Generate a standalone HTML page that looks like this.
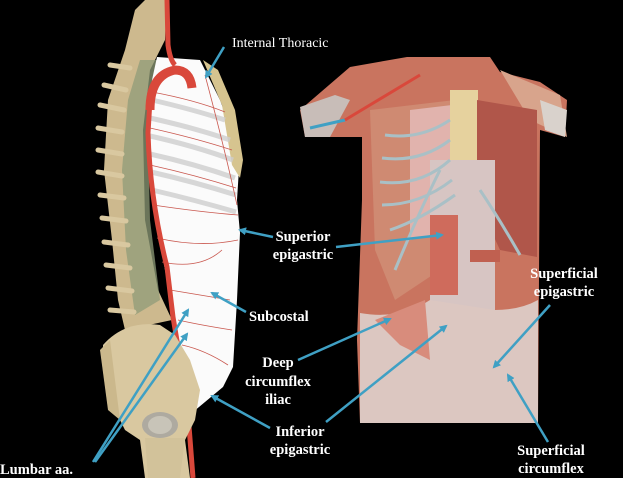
<!DOCTYPE html>
<html><head><style>
html,body{margin:0;padding:0;background:#000;}
svg{display:block}
text{font-family:"Liberation Serif",serif;fill:#fff;font-weight:bold;font-size:14.5px}
</style></head><body>
<svg width="623" height="478" viewBox="0 0 623 478" xmlns="http://www.w3.org/2000/svg">
<defs>
<marker id="ah" markerWidth="8" markerHeight="8" refX="6" refY="4" orient="auto" markerUnits="userSpaceOnUse">
<path d="M0,0 L8,4 L0,8 Z" fill="#3fa0c4"/></marker>
</defs>
<rect width="623" height="478" fill="#000"/>
<!-- spine -->
<path d="M145,0 L167,0 L165,40 L150,70 L143,130 L145,220 L158,290 L172,320 L125,330 L118,300 L112,240 L104,170 L108,100 L125,50 L135,10 Z" fill="#cdb98e"/>
<path d="M140,60 L158,60 L148,130 L150,220 L160,300 L135,315 L126,250 L122,170 L128,100 Z" fill="#8f9c78" opacity="0.75"/>
<g stroke="#d9c8a0" stroke-width="5" stroke-linecap="round">
<line x1="110" y1="65" x2="130" y2="68"/><line x1="104" y1="85" x2="126" y2="90"/><line x1="100" y1="105" x2="124" y2="110"/>
<line x1="98" y1="128" x2="122" y2="132"/><line x1="98" y1="150" x2="122" y2="154"/><line x1="98" y1="172" x2="122" y2="176"/>
<line x1="100" y1="195" x2="124" y2="198"/><line x1="102" y1="218" x2="126" y2="221"/><line x1="104" y1="242" x2="128" y2="245"/>
<line x1="106" y1="265" x2="130" y2="268"/><line x1="108" y1="288" x2="132" y2="291"/><line x1="110" y1="310" x2="134" y2="312"/>
</g>
<!-- thorax white -->
<path d="M157,57 L200,60 L220,100 L240,153 L237,200 L240,233 L237,300 L233,367 L223,387 L193,412 L185,400 L175,330 L165,270 L152,200 L148,130 L152,80 Z" fill="#fbfbfb"/>
<path d="M203,60 L218,70 L235,110 L243,160 L240,178 L232,165 L222,105 Z" fill="#d6c48f"/>
<g stroke="#cfcfcf" stroke-width="5" fill="none" opacity="0.8">
<path d="M152,100 Q195,110 225,120"/><path d="M150,118 Q195,128 230,140"/><path d="M150,136 Q195,146 233,160"/>
<path d="M150,154 Q195,164 235,178"/><path d="M151,172 Q195,182 236,195"/><path d="M152,190 Q195,200 236,212"/>
</g>
<g stroke="#c9574e" stroke-width="0.8" fill="none">
<path d="M152,92 Q195,100 225,112"/><path d="M150,128 Q195,138 232,150"/><path d="M150,165 Q195,175 236,188"/>
<path d="M153,205 Q200,212 238,215"/><path d="M157,238 Q200,248 238,240"/><path d="M162,262 Q200,270 222,250"/>
<path d="M170,290 Q200,295 230,300"/><path d="M178,320 Q200,325 232,330"/><path d="M182,345 Q205,350 228,365"/>
<path d="M205,75 Q225,150 237,205"/>
</g>
<!-- aorta -->
<path d="M167,0 L168,45 Q170,60 175,65" stroke="#d9483b" stroke-width="5" fill="none"/>
<path d="M150,110 Q150,75 175,70 Q190,70 192,88" stroke="#d9483b" stroke-width="9" fill="none"/>
<path d="M150,100 L148,133 Q150,200 167,267 L173,317 L187,400 L193,478" stroke="#d9483b" stroke-width="5" fill="none"/>
<!-- pelvis -->
<path d="M103,345 Q125,320 160,325 L175,335 L190,360 L200,390 L195,420 L185,440 L190,478 L145,478 L140,440 L125,430 L110,400 L103,370 Z" fill="#d9c8a0"/>
<path d="M100,350 L110,340 L120,420 L108,410 Z" fill="#cbb88c"/>
<ellipse cx="160" cy="425" rx="18" ry="13" fill="#aeaaa0"/>
<ellipse cx="160" cy="425" rx="12" ry="9" fill="#c8c4b8"/>
<path d="M145,438 L185,438 L180,478 L148,478 Z" fill="#d2c29a"/>
<!-- right torso -->
<path d="M350,67 L407,57 L490,57 L500,72 L540,82 L567,100 L565,137 L540,130 L538,423 L360,423 L357,340 L362,200 L362,137 L305,137 L300,110 Z" fill="#c9745f"/>
<path d="M300,107 L335,95 L350,100 L330,137 L305,137 Z" fill="#c8bdb8"/>
<path d="M500,70 L560,95 L567,137 L530,120 Z" fill="#d8a48c"/>
<path d="M540,100 L567,110 L565,137 L545,130 Z" fill="#d9d2cc"/>
<path d="M370,110 L455,100 L455,260 L395,300 L375,250 Z" fill="#cf8a72"/>
<path d="M410,110 L452,105 L452,230 L410,240 Z" fill="#e8c4c6" opacity="0.7"/>
<path d="M450,90 L478,90 L478,187 L450,187 Z" fill="#e6d29e"/>
<path d="M477,100 L537,110 L537,257 L500,250 L477,200 Z" fill="#b0564a"/>
<path d="M430,160 L495,160 L495,330 L430,330 Z" fill="#d7c5c3"/>
<path d="M430,215 L458,215 L458,295 L430,295 Z" fill="#cf6b5c"/>
<path d="M470,250 L500,250 L500,262 L470,262 Z" fill="#c06050"/>
<path d="M360,313 Q400,320 430,300 L495,310 Q520,310 538,300 L538,423 L360,423 Z" fill="#dcc7c1"/>
<path d="M375,320 L425,300 L430,360 L400,345 Z" fill="#d88c7c"/>
<g stroke="#a9c0c6" stroke-width="3" fill="none">
<path d="M385,135 Q420,140 450,120"/><path d="M382,158 Q420,163 450,140"/><path d="M380,182 Q420,187 450,160"/>
<path d="M382,205 Q420,205 452,180"/><path d="M390,230 Q420,220 455,195"/>
<path d="M480,190 Q500,220 520,255"/><path d="M440,170 Q420,210 395,270"/>
</g>
<path d="M310,128 L345,120" stroke="#3fa0c4" stroke-width="3"/>
<path d="M345,120 L420,75" stroke="#d9483b" stroke-width="3"/>
<!-- arrows -->
<g stroke="#3fa0c4" stroke-width="2.5" fill="none" marker-end="url(#ah)">
<line x1="224" y1="47" x2="206" y2="77"/>
<line x1="273" y1="237" x2="240" y2="230"/>
<line x1="336" y1="247" x2="442" y2="235"/>
<line x1="246" y1="312" x2="212" y2="293"/>
<line x1="93" y1="462" x2="188" y2="310"/>
<line x1="95" y1="462" x2="187" y2="334"/>
<line x1="298" y1="360" x2="390" y2="319"/>
<line x1="326" y1="422" x2="446" y2="326"/>
<line x1="270" y1="428" x2="212" y2="396"/>
<line x1="550" y1="305" x2="494" y2="367"/>
<line x1="548" y1="442" x2="508" y2="375"/>
</g>
<!-- labels -->
<text x="232" y="47" style="font-weight:normal;font-size:14px">Internal Thoracic</text>
<text x="303" y="241" text-anchor="middle">Superior</text>
<text x="303" y="259" text-anchor="middle">epigastric</text>
<text x="249" y="321">Subcostal</text>
<text x="278" y="367" text-anchor="middle">Deep</text>
<text x="278" y="386" text-anchor="middle">circumflex</text>
<text x="278" y="404" text-anchor="middle">iliac</text>
<text x="300" y="436" text-anchor="middle">Inferior</text>
<text x="300" y="454" text-anchor="middle">epigastric</text>
<text x="0" y="474">Lumbar aa.</text>
<text x="564" y="278" text-anchor="middle">Superficial</text>
<text x="564" y="296" text-anchor="middle">epigastric</text>
<text x="551" y="455" text-anchor="middle">Superficial</text>
<text x="551" y="473" text-anchor="middle">circumflex</text>
</svg>
</body></html>
